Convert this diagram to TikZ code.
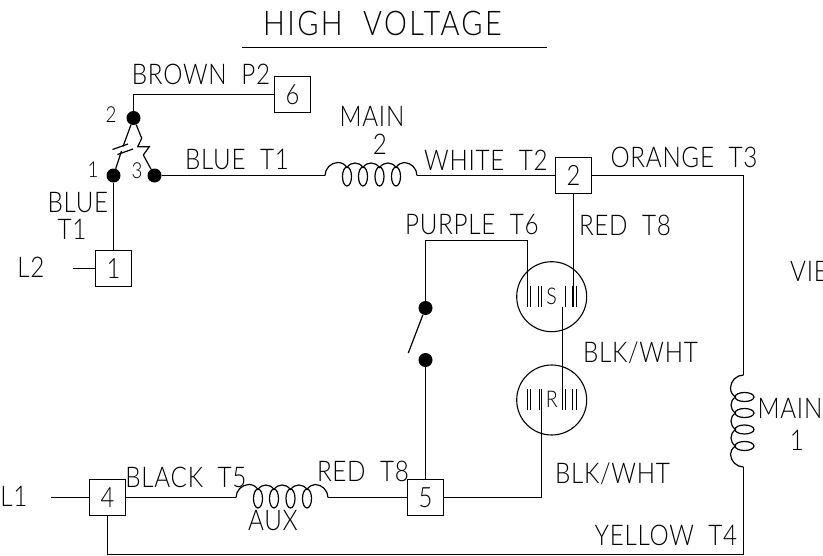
\documentclass[tikz,border=0pt]{standalone}
\usepackage{fontspec}
\setmainfont{Lato Light}[FakeStretch=0.85,LetterSpace=2.5]
\tikzset{
  wire/.style={line width=1.2pt,line join=miter},
  box/.style={draw,line width=1.2pt,minimum size=36pt,inner sep=0pt,font=\fontsize{28}{28}\selectfont,text height=19pt,text depth=0pt},
  dot/.style={circle,fill=black,inner sep=0pt,minimum size=14pt},
  lab/.style={inner sep=0pt,font=\fontsize{28.5}{28.5}\selectfont,text height=19pt,text depth=0pt},
  smalllab/.style={inner sep=0pt,font=\fontsize{22}{22}\selectfont,text height=15pt,text depth=0pt},
  titlelab/.style={inner sep=0pt,font=\fontsize{34}{34}\selectfont\addfontfeature{LetterSpace=7},text height=23pt,text depth=0pt},
  rotorcircle/.style={circle,draw,line width=1.1pt,minimum size=70pt,inner sep=0pt,font=\fontsize{23}{23}\selectfont,text height=15pt,text depth=0pt},
  bar/.style={line width=1pt}
}
\newcommand{\coilshape}{%
  \draw[wire] (0,0) .. controls (0,-7) and (6,-13) .. (13,-13) .. controls (17,-13) and (20,-11) .. (22,-8)
    .. controls (26,-14) and (34,-14) .. (38,-8)
    .. controls (42,-14) and (50,-14) .. (54.5,-8)
    .. controls (59,-14) and (67,-14) .. (71,-8)
    .. controls (73,-11) and (76,-13) .. (79,-13) .. controls (86,-13) and (92,-7) .. (92,0);
  \foreach \c in {22,38,54.5,71}
    \draw[wire] (\c,1) ellipse [x radius=4.5,y radius=9.5];
}
\begin{document}
\begin{tikzpicture}[x=1pt,y=-1pt]
\useasboundingbox (0,0) rectangle (823,555);
% terminals
\node[box] (b6) at (292.5,94.5) {6};
\node[box] (b1) at (113.5,268.5) {1};
\node[box] (b2) at (573.5,175.5) {2};
\node[box] (b4) at (107.5,497.5) {4};
\node[box] (b5) at (425.5,497.5) {5};
% dots
\node[dot] (d2) at (133.5,118) {};
\node[dot] (d1) at (113.5,175.5) {};
\node[dot] (d3) at (154.5,175.5) {};
\node[dot] (sw1) at (425.5,308) {};
\node[dot] (sw2) at (425.5,360) {};
% relay coils
\node[rotorcircle] (S) at (551.7,296.7) {S};
\node[rotorcircle] (R) at (551.7,400) {R};
% free ends
\coordinate (m2a) at (325,175.5);
\coordinate (m2b) at (417,175.5);
\coordinate (auxa) at (236,497.5);
\coordinate (auxb) at (328,497.5);
\coordinate (m1a) at (743.5,375);
\coordinate (m1b) at (743.5,467);
\coordinate (m1c) at (743.5,554.5);
\coordinate (l2end) at (73,268.5);
\coordinate (l1end) at (51,497.5);
\coordinate (sw3) at (408.3,353);
\coordinate (pk) at (527.5,240.5);
\coordinate (sa) at (527.5,306.7);
\coordinate (sb) at (573.5,306.7);
\coordinate (sc) at (562.5,306.7);
\coordinate (rc) at (562.5,410);
\coordinate (rb) at (541.5,389);
\coordinate (c1) at (123,146.5);
\coordinate (c2) at (121.5,151);
% coils
\begin{scope}[shift={(m2a)}]\coilshape\end{scope}
\begin{scope}[shift={(auxa)}]\coilshape\end{scope}
\begin{scope}[shift={(m1a)},cm={0,-1,-1,0,(0,0)}]\coilshape\end{scope}
% wires
\draw[wire] (d2) |- (b6.west);
\draw[wire] (d3) -- (m2a);
\draw[wire] (m2b) -- (b2.west);
\draw[wire] (b2.east) -| (m1a);
\draw[wire] (b1.west) -- (l2end);
\draw[wire] (d1) -- (b1.north -| d1);
\draw[wire] (l1end) -- (b4.west);
\draw[wire] (b4.east) -- (auxa);
\draw[wire] (auxb) -- (b5.west);
\draw[wire] (b4.south) |- (m1c) -- (m1b);
\draw[wire] (sw1) |- (pk) -- (sa);
\draw[wire] (sw2) -- (b5.north -| sw2);
\draw[wire] (sw1) -- (sw3);
\draw[wire] (b2.south -| sb) -- (sb);
\draw[wire] (sc) -- (rc);
\draw[wire] (b5.east) -| (rb);
% capacitor and resistor of the relay
\draw[wire] (d2) -- (c1);
\draw[wire] (c2) -- (d1);
\draw[wire] (112.5,149.5) -- (128,144);
\draw[wire] (117.5,154.5) -- (133,149);
\draw[wire] (d2) -- (141.7,138.3) -- (137.7,146.7) -- (149.3,146.7) -- (143.3,155) -- (d3);
% bars
\foreach \x in {530.5,538.5,541.5,565.5,572.5,576.5}
  \draw[bar] (\x,285.7) -- (\x,306.7);
\foreach \x in {527.5,530.5,539.5,565.5,572.5,576.5}
  \draw[bar] (\x,389.3) -- (\x,410);
% labels
\node[titlelab] (tt) at (382.5,23.5) {HIGH\ \ VOLTAGE};
\coordinate (ula) at (242,47.5);
\coordinate (ulb) at (547,47.5);
\draw[wire] (ula) -- (ulb);
\node[lab] (l1) at (201,75) {BROWN\ \ P2};
\node[smalllab] (n2) at (111,115) {2};
\node[smalllab] (n1) at (93,170) {1};
\node[smalllab] (n3) at (137,171) {3};
\node[lab] (l2) at (237,160) {BLUE\ \ T1};
\node[lab] (l3) at (78,203) {BLUE};
\node[lab] (l4) at (72,230) {T1};
\node[lab] (l5) at (31,268) {L2};
\node[lab] (l6) at (372,117) {MAIN};
\node[lab] (l7) at (380,145) {2};
\node[lab] (l8) at (486,161) {WHITE\ \ T2};
\node[lab] (l9) at (684,158) {ORANGE\ \ T3};
\node[lab] (l10) at (472,225) {PURPLE\ \ T6};
\node[lab] (l11) at (625,226) {RED\ \ T8};
\node[lab] (l12) at (640.5,353) {BLK/WHT};
\node[lab] (l13) at (612.5,474) {BLK/WHT};
\node[lab] (l14) at (186,478) {BLACK\ \ T5};
\node[lab] (l15) at (363,472) {RED\ \ T8};
\node[lab] (l16) at (273,521) {AUX};
\node[lab] (l17) at (14,497) {L1};
\node[lab] (l18) at (790,409) {MAIN};
\node[lab] (l19) at (797,441) {1};
\node[lab] (l20) at (666,536) {YELLOW\ \ T4};
\node[lab,anchor=west] (l21) at (790,272) {VIE};
\end{tikzpicture}
\end{document}
